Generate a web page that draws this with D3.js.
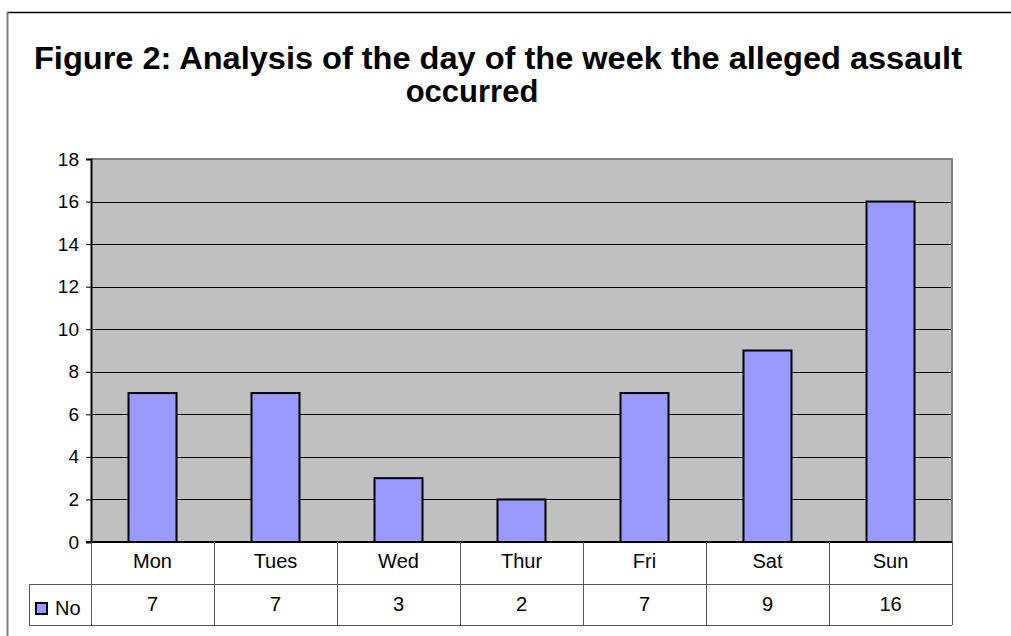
<!DOCTYPE html>
<html>
<head>
<meta charset="UTF-8">
<title>Figure 2</title>
<script src="https://d3js.org/d3.v7.min.js"></script>
<style>
  body { margin: 0; background: #fff; }
  text { font-family: "Liberation Sans", Arial, sans-serif; }
</style>
</head>
<body>
<svg width="1011" height="636"></svg>
<script>
  // data
  const days = ['Mon', 'Tues', 'Wed', 'Thur', 'Fri', 'Sat', 'Sun'];
  const counts = [7, 7, 3, 2, 7, 9, 16];
  const seriesName = 'No';
  const yTicks = [0, 2, 4, 6, 8, 10, 12, 14, 16, 18];

  const svg = d3.select('svg');

  // outer frame (top + left only visible)
  svg.append('line').attr('x1', 7).attr('x2', 1011).attr('y1', 12.5).attr('y2', 12.5)
    .attr('stroke', '#000').attr('stroke-width', 1.5);
  svg.append('line').attr('x1', 7.5).attr('x2', 7.5).attr('y1', 12).attr('y2', 636)
    .attr('stroke', '#808080').attr('stroke-width', 2);

  // title
  const title = svg.append('text')
    .attr('text-anchor', 'middle')
    .style('font-size', '31px')
    .attr('font-weight', 'bold');
  title.append('tspan').attr('x', 498).attr('y', 69)
    .attr('textLength', 928).attr('lengthAdjust', 'spacingAndGlyphs')
    .text('Figure 2: Analysis of the day of the week the alleged assault');
  title.append('tspan').attr('x', 472).attr('y', 102)
    .text('occurred');

  const pLeft = 91, pRight = 952, pTop = 159, pBottom = 542;

  const x = d3.scaleBand().domain(days).range([pLeft, pRight]);
  const y = d3.scaleLinear().domain([0, 18]).range([pBottom, pTop]);

  // plot area
  svg.append('rect')
    .attr('x', pLeft).attr('y', pTop)
    .attr('width', pRight - pLeft).attr('height', pBottom - pTop)
    .attr('fill', '#C0C0C0');

  // gridlines
  svg.append('g').selectAll('line')
    .data(yTicks.filter(d => d > 0 && d < 18))
    .join('line')
    .attr('x1', pLeft).attr('x2', pRight)
    .attr('y1', d => Math.round(y(d)) + 0.5).attr('y2', d => Math.round(y(d)) + 0.5)
    .attr('stroke', '#000').attr('stroke-width', 1);

  // plot border top/right
  svg.append('line').attr('x1', pLeft).attr('x2', pRight + 1).attr('y1', pTop).attr('y2', pTop)
    .attr('stroke', '#808080').attr('stroke-width', 2);
  svg.append('line').attr('x1', pRight).attr('x2', pRight).attr('y1', pTop).attr('y2', pBottom)
    .attr('stroke', '#808080').attr('stroke-width', 2);

  // bars
  const barW = 48;
  svg.append('g').selectAll('rect')
    .data(counts)
    .join('rect')
    .attr('x', (d, i) => x(days[i]) + x.bandwidth() / 2 - barW / 2)
    .attr('y', d => y(d))
    .attr('width', barW)
    .attr('height', d => pBottom - y(d))
    .attr('fill', '#9999FF')
    .attr('stroke', '#000')
    .attr('stroke-width', 2);

  // y axis
  const yAxis = svg.append('g')
    .attr('transform', `translate(${pLeft},0)`)
    .call(d3.axisLeft(y).tickValues(yTicks).tickSize(5).tickPadding(7));
  yAxis.select('.domain').attr('stroke', '#000').attr('stroke-width', 2);
  yAxis.selectAll('.tick line').attr('stroke', '#000');
  yAxis.selectAll('.tick text')
    .style('font-size', '19px')
    .attr('fill', '#000');

  // x axis baseline
  svg.append('line').attr('x1', pLeft - 5).attr('x2', pRight).attr('y1', pBottom).attr('y2', pBottom)
    .attr('stroke', '#000').attr('stroke-width', 2);

  // data table
  const row1 = 584, row2 = 625, tblLeft = 29;
  const tbl = svg.append('g').attr('stroke', '#555').attr('stroke-width', 1).attr('fill', 'none');
  const bounds = days.map(d => x(d)).concat([pRight]);
  tbl.selectAll('line.v')
    .data(bounds)
    .join('line')
    .attr('class', 'v')
    .attr('x1', d => Math.round(d) + 0.5).attr('x2', d => Math.round(d) + 0.5)
    .attr('y1', pBottom).attr('y2', row2);
  tbl.append('line').attr('x1', tblLeft).attr('x2', pRight).attr('y1', row1 + 0.5).attr('y2', row1 + 0.5);
  tbl.append('line').attr('x1', tblLeft).attr('x2', pRight).attr('y1', row2 + 0.5).attr('y2', row2 + 0.5);
  tbl.append('line').attr('x1', tblLeft + 0.5).attr('x2', tblLeft + 0.5).attr('y1', row1).attr('y2', row2);

  svg.append('g').selectAll('text')
    .data(days)
    .join('text')
    .attr('x', d => x(d) + x.bandwidth() / 2)
    .attr('y', 568)
    .attr('text-anchor', 'middle')
    .style('font-size', '20px')
    .text(d => d);

  svg.append('g').selectAll('text')
    .data(counts)
    .join('text')
    .attr('x', (d, i) => x(days[i]) + x.bandwidth() / 2)
    .attr('y', 611)
    .attr('text-anchor', 'middle')
    .style('font-size', '20px')
    .text(d => d);

  // legend key
  svg.append('rect')
    .attr('x', 36).attr('y', 603)
    .attr('width', 11).attr('height', 11)
    .attr('fill', '#9999FF').attr('stroke', '#000').attr('stroke-width', 2);
  svg.append('text')
    .attr('x', 55).attr('y', 615)
    .style('font-size', '20px')
    .text(seriesName);
</script>
</body>
</html>
